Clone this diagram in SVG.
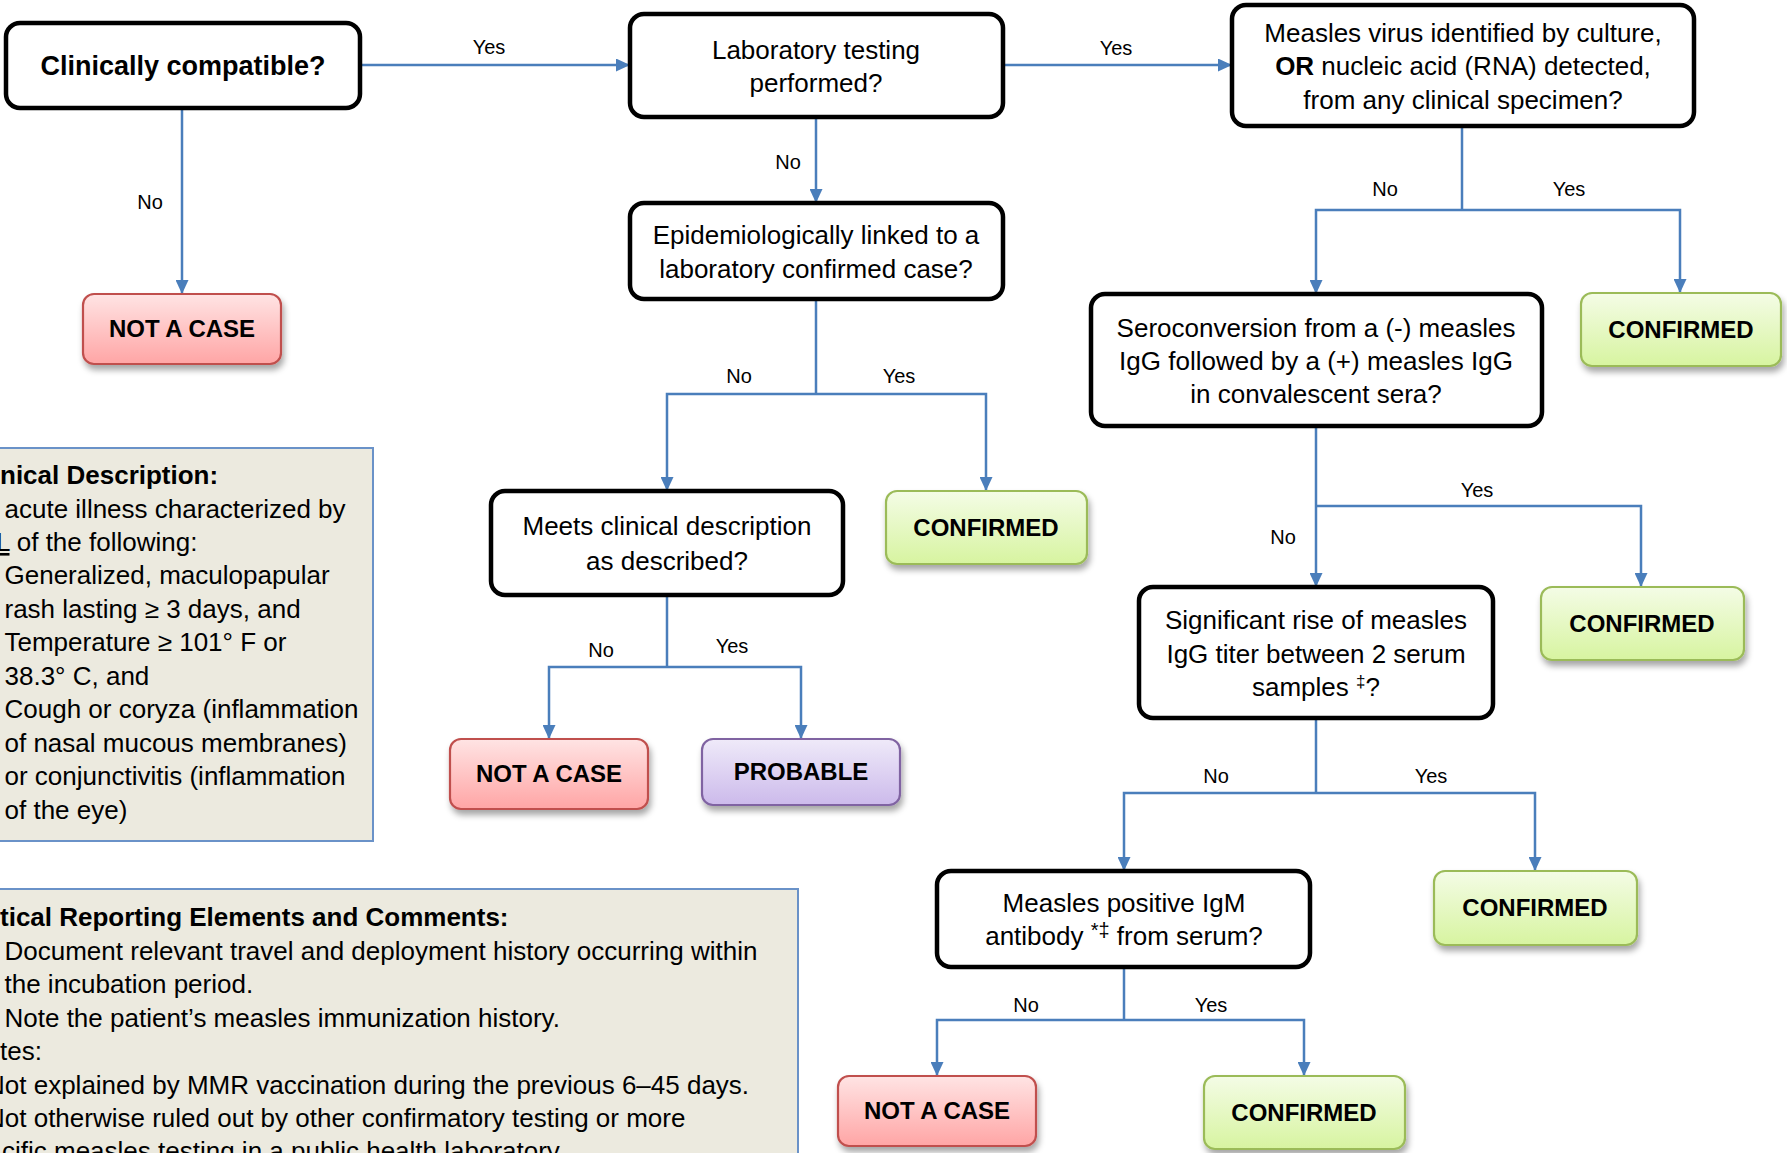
<svg xmlns="http://www.w3.org/2000/svg" width="1787" height="1153" viewBox="0 0 1787 1153">
<defs>
<style>
.dec{fill:#fff;stroke:#000;stroke-width:4.5}
.t{font-family:"Liberation Sans",Arial,sans-serif;font-size:26px;fill:#000;text-anchor:middle}
.b{font-weight:bold}
.term{font-family:"Liberation Sans",Arial,sans-serif;font-size:24px;font-weight:bold;fill:#000;text-anchor:middle}
.lbl{font-family:"Liberation Sans",Arial,sans-serif;font-size:20px;fill:#000;text-anchor:middle}
.pt{font-family:"Liberation Sans",Arial,sans-serif;font-size:26px;fill:#000}
.con{fill:none;stroke:#4A7EBB;stroke-width:2.5}
.arr{marker-end:url(#ah)}
.panel{fill:#ECEADF;stroke:#6A92C8;stroke-width:2}
.red{fill:url(#gRed);stroke:#C0504D;stroke-width:2.2;filter:url(#sh)}
.grn{fill:url(#gGrn);stroke:#9BBB59;stroke-width:2.2;filter:url(#sh)}
.pur{fill:url(#gPur);stroke:#8064A2;stroke-width:2.2;filter:url(#sh)}
</style>
<marker id="ah" markerUnits="userSpaceOnUse" markerWidth="14" markerHeight="13" viewBox="0 0 14 13" refX="14" refY="6.5" orient="auto">
<path d="M0,0 L14,6.5 L0,13 z" fill="#4A7EBB"/>
</marker>
<linearGradient id="gRed" x1="0" y1="0" x2="0" y2="1"><stop offset="0" stop-color="#FFE4E4"/><stop offset="1" stop-color="#FFA5A5"/></linearGradient>
<linearGradient id="gGrn" x1="0" y1="0" x2="0" y2="1"><stop offset="0" stop-color="#F4FCE6"/><stop offset="1" stop-color="#D7F4A0"/></linearGradient>
<linearGradient id="gPur" x1="0" y1="0" x2="0" y2="1"><stop offset="0" stop-color="#EFEAF9"/><stop offset="1" stop-color="#CCBAEB"/></linearGradient>
<filter id="sh" x="-20%" y="-20%" width="140%" height="150%"><feDropShadow dx="2" dy="5" stdDeviation="3" flood-color="#000" flood-opacity="0.35"/></filter>
</defs>
<rect width="1787" height="1153" fill="#fff"/>

<g id="panel-clinical">
<rect class="panel" x="-10" y="448" width="383" height="393"/>
<text class="pt b" x="0" y="484">nical Description:</text>
<text class="pt" x="4.5" y="518">acute illness characterized by</text>
<text class="pt" x="-4" y="551"><tspan text-decoration="underline">L</tspan> of the following:</text>
<text class="pt" x="4.5" y="584">Generalized, maculopapular</text>
<text class="pt" x="4.5" y="618">rash lasting ≥ 3 days, and</text>
<text class="pt" x="4.5" y="651">Temperature ≥ 101° F or</text>
<text class="pt" x="4.5" y="685">38.3° C, and</text>
<text class="pt" x="4.5" y="718">Cough or coryza (inflammation</text>
<text class="pt" x="4.5" y="752">of nasal mucous membranes)</text>
<text class="pt" x="4.5" y="785">or conjunctivitis (inflammation</text>
<text class="pt" x="4.5" y="819">of the eye)</text>
</g>

<g id="panel-reporting">
<rect class="panel" x="-10" y="889" width="808" height="300"/>
<text class="pt b" x="0" y="926">tical Reporting Elements and Comments:</text>
<text class="pt" x="4.5" y="960">Document relevant travel and deployment history occurring within</text>
<text class="pt" x="4.5" y="993">the incubation period.</text>
<text class="pt" x="4.5" y="1027">Note the patient’s measles immunization history.</text>
<text class="pt" x="0" y="1060">tes:</text>
<text class="pt" x="-14" y="1094">Not explained by MMR vaccination during the previous 6–45 days.</text>
<text class="pt" x="-14" y="1127">Not otherwise ruled out by other confirmatory testing or more</text>
<text class="pt" x="2" y="1160">cific measles testing in a public health laboratory.</text>
</g>

<g id="connectors">
<path class="con arr" d="M360,65 H630"/>
<path class="con arr" d="M182,108 V294"/>
<path class="con arr" d="M816,117 V203"/>
<path class="con arr" d="M1003,65 H1232"/>
<path class="con" d="M1462,126 V210"/>
<path class="con arr" d="M1462,210 H1316 V294"/>
<path class="con arr" d="M1462,210 H1680 V293"/>
<path class="con" d="M816,299 V394"/>
<path class="con arr" d="M816,394 H667 V491"/>
<path class="con arr" d="M816,394 H986 V491"/>
<path class="con" d="M667,595 V667"/>
<path class="con arr" d="M667,667 H549 V739"/>
<path class="con arr" d="M667,667 H801 V739"/>
<path class="con arr" d="M1316,426 V587"/>
<path class="con arr" d="M1316,506 H1641 V587"/>
<path class="con" d="M1316,718 V793"/>
<path class="con arr" d="M1316,793 H1124 V871"/>
<path class="con arr" d="M1316,793 H1535 V871"/>
<path class="con" d="M1124,967 V1020"/>
<path class="con arr" d="M1124,1020 H937 V1076"/>
<path class="con arr" d="M1124,1020 H1304 V1076"/>
<g id="connector-labels">
<text class="lbl" x="489" y="54">Yes</text>
<text class="lbl" x="150" y="209">No</text>
<text class="lbl" x="788" y="169">No</text>
<text class="lbl" x="1116" y="55">Yes</text>
<text class="lbl" x="1385" y="196">No</text>
<text class="lbl" x="1569" y="196">Yes</text>
<text class="lbl" x="739" y="383">No</text>
<text class="lbl" x="899" y="383">Yes</text>
<text class="lbl" x="601" y="657">No</text>
<text class="lbl" x="732" y="653">Yes</text>
<text class="lbl" x="1477" y="497">Yes</text>
<text class="lbl" x="1283" y="544">No</text>
<text class="lbl" x="1216" y="783">No</text>
<text class="lbl" x="1431" y="783">Yes</text>
<text class="lbl" x="1026" y="1012">No</text>
<text class="lbl" x="1211" y="1012">Yes</text>
</g>
</g>

<g id="n-clinically">
<rect class="dec" x="6" y="23" width="354" height="85" rx="14"/>
<text class="t b" x="183" y="75" style="font-size:27px">Clinically compatible?</text>
</g>
<g id="n-lab">
<rect class="dec" x="630" y="14" width="373" height="103" rx="14"/>
<text class="t" x="816" y="59">Laboratory testing</text>
<text class="t" x="816" y="92">performed?</text>
</g>
<g id="n-virus">
<rect class="dec" x="1232" y="5" width="462" height="121" rx="14"/>
<text class="t" x="1463" y="42">Measles virus identified by culture,</text>
<text class="t" x="1463" y="75"><tspan font-weight="bold">OR</tspan> nucleic acid (RNA) detected,</text>
<text class="t" x="1463" y="109">from any clinical specimen?</text>
</g>
<g id="n-notcase1">
<rect class="red" x="83" y="294" width="198" height="70" rx="11"/>
<text class="term" x="182" y="337">NOT A CASE</text>
</g>
<g id="n-epi">
<rect class="dec" x="630" y="203" width="373" height="96" rx="14"/>
<text class="t" x="816" y="244">Epidemiologically linked to a</text>
<text class="t" x="816" y="278">laboratory confirmed case?</text>
</g>
<g id="n-sero">
<rect class="dec" x="1091" y="294" width="451" height="132" rx="14"/>
<text class="t" x="1316" y="337">Seroconversion from a (-) measles</text>
<text class="t" x="1316" y="370">IgG followed by a (+) measles IgG</text>
<text class="t" x="1316" y="403">in convalescent sera?</text>
</g>
<g id="n-confirmed1">
<rect class="grn" x="1581" y="293" width="200" height="73" rx="11"/>
<text class="term" x="1681" y="338">CONFIRMED</text>
</g>
<g id="n-meets">
<rect class="dec" x="491" y="491" width="352" height="104" rx="14"/>
<text class="t" x="667" y="535">Meets clinical description</text>
<text class="t" x="667" y="570">as described?</text>
</g>
<g id="n-confirmed2">
<rect class="grn" x="886" y="491" width="201" height="73" rx="11"/>
<text class="term" x="986" y="536">CONFIRMED</text>
</g>
<g id="n-significant">
<rect class="dec" x="1139" y="587" width="354" height="131" rx="14"/>
<text class="t" x="1316" y="629">Significant rise of measles</text>
<text class="t" x="1316" y="663">IgG titer between 2 serum</text>
<text class="t" x="1316" y="696">samples <tspan font-size="17" dy="-9">‡</tspan><tspan dy="9">?</tspan></text>
</g>
<g id="n-confirmed3">
<rect class="grn" x="1541" y="587" width="203" height="73" rx="11"/>
<text class="term" x="1642" y="632">CONFIRMED</text>
</g>
<g id="n-notcase2">
<rect class="red" x="450" y="739" width="198" height="70" rx="11"/>
<text class="term" x="549" y="782">NOT A CASE</text>
</g>
<g id="n-probable">
<rect class="pur" x="702" y="739" width="198" height="66" rx="11"/>
<text class="term" x="801" y="780">PROBABLE</text>
</g>
<g id="n-igm">
<rect class="dec" x="937" y="871" width="373" height="96" rx="14"/>
<text class="t" x="1124" y="912">Measles positive IgM</text>
<text class="t" x="1124" y="945">antibody <tspan font-size="20" dy="-8">*‡</tspan><tspan dy="8"> from serum?</tspan></text>
</g>
<g id="n-confirmed4">
<rect class="grn" x="1434" y="871" width="203" height="74" rx="11"/>
<text class="term" x="1535" y="916">CONFIRMED</text>
</g>
<g id="n-notcase3">
<rect class="red" x="838" y="1076" width="198" height="70" rx="11"/>
<text class="term" x="937" y="1119">NOT A CASE</text>
</g>
<g id="n-confirmed5">
<rect class="grn" x="1204" y="1076" width="201" height="73" rx="11"/>
<text class="term" x="1304" y="1121">CONFIRMED</text>
</g>
</svg>
